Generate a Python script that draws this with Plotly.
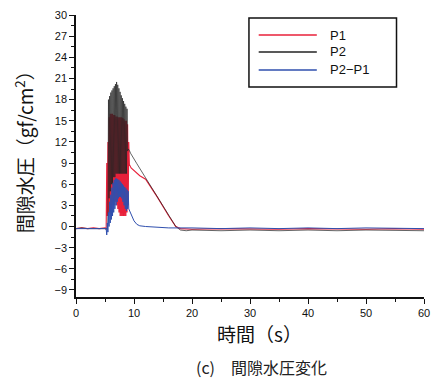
import plotly.graph_objects as go

# Time axis (s) and pore water pressure (gf/cm^2) for each gauge
t_pre = [0, 1, 2, 3, 4, 5, 5.1]
t_shake = [5.2, 5.3, 5.4, 5.5, 5.6, 5.7, 5.8, 5.9, 6.0, 6.1, 6.2, 6.3,
           6.4, 6.5, 6.6, 6.7, 6.8, 6.9, 7.0, 7.1, 7.2, 7.3, 7.4, 7.5,
           7.6, 7.7, 7.8, 7.9, 8.0, 8.1, 8.2, 8.3, 8.4, 8.5, 8.6, 8.7,
           8.8, 8.9, 9.0, 9.1, 9.2]

p1_pre = [-0.3, -0.2, -0.3, -0.2, -0.3, -0.2, -0.3]
p1_shake = [-0.3, 9, 1.5, 12, 1.5, 15.5, 2, 16, 2, 16, 2.5, 16,
            3, 15.8, 3, 15.8, 3.5, 15.6, 3, 15.6, 2.5, 15.5, 2, 15.5,
            1.5, 15.5, 1.5, 15.5, 1.5, 15.4, 1.5, 15.2, 1.5, 15, 1.5, 15,
            2, 14.5, 3, 12, 8.8]
t_p1_post = [9.5, 10, 11, 12, 14, 16, 17.2, 18, 20, 25, 30, 35, 40, 45, 50, 55, 60]
p1_post = [8.3, 7.9, 7.2, 6.7, 4.2, 1.5, 0.0, -0.3, -0.4, -0.3, -0.4, -0.4,
           -0.3, -0.4, -0.4, -0.3, -0.4]

p2_pre = [-0.3, -0.2, -0.3, -0.3, -0.2, -0.3, -0.4]
p2_shake = [-0.3, -0.3, -0.4, 0.5, 18, 4, 18.5, 5, 19, 6, 19.3, 6,
            19.6, 7, 19.9, 7, 20.2, 7.5, 20.5, 7.5, 20.1, 7.5, 19.6, 7.5,
            19.1, 7.5, 18.6, 7.5, 18.2, 7.5, 17.8, 7.5, 17.4, 7.5, 17, 7.5,
            16.7, 10.7, 11, 10.9, 10.8]
t_p2_post = [9.4, 9.8, 10.5, 12, 14, 16, 17.2, 18, 19, 20, 25, 30, 35, 40, 45, 50, 55, 60]
p2_post = [10.4, 9.9, 8.9, 6.9, 4.3, 1.6, 0.0, -0.5, -0.6, -0.5, -0.6, -0.5,
           -0.6, -0.5, -0.6, -0.5, -0.6, -0.6]

d_pre = [-0.3, -0.3, -0.2, -0.3, -0.3, -0.2, -0.3]
d_shake = [-0.3, -1.2, 0.5, -0.8, 2, 0, 3.5, 0.5, 4.5, 1, 5.5, 1.5,
           6.2, 2, 6.6, 2.5, 6.8, 3, 6.8, 3.5, 6.7, 4, 6.6, 4.2,
           6.4, 4.2, 6.2, 4, 6, 3.5, 5.8, 3, 5.6, 2.5, 5.4, 2.2,
           5.2, 2.5, 5, 2.5, 2.3]
t_d_post = [9.4, 9.7, 10, 10.5, 11, 12, 14, 16, 20, 25, 30, 35, 40, 45, 50, 55, 60]
d_post = [1.8, 1.3, 0.8, 0.3, 0.1, 0.0, -0.1, -0.2, -0.2, -0.3, -0.2, -0.3,
          -0.2, -0.3, -0.2, -0.3, -0.3]

x_ticks = [0, 10, 20, 30, 40, 50, 60]
y_ticks = [-9, -6, -3, 0, 3, 6, 9, 12, 15, 18, 21, 24, 27, 30]

# name, x, y, colour, width
series = [
    ("P1", t_pre + t_shake + t_p1_post, p1_pre + p1_shake + p1_post, "#e8203a", 1.1),
    ("P2", t_pre + t_shake + t_p2_post, p2_pre + p2_shake + p2_post, "#222222", 0.7),
    ("P2\u2212P1", t_pre + t_shake + t_d_post, d_pre + d_shake + d_post, "#2f4fae", 1.0),
]

fig = go.Figure()
for name, xs, ys, col, w in series:
    fig.add_trace(go.Scatter(x=xs, y=ys, mode="lines", name=name,
                             line=dict(color=col, width=w), showlegend=False))

tick_font = dict(family="Liberation Sans, Arial, sans-serif", size=11, color="#111")
cjk = "Noto Sans CJK JP, sans-serif"

fig.update_layout(
    width=438, height=383,
    margin=dict(l=76, r=8, t=15, b=86),
    paper_bgcolor="white", plot_bgcolor="white",
    xaxis=dict(range=[0, 60], tickvals=x_ticks, ticks="outside", ticklen=5,
               tickwidth=1.2, tickcolor="#111", showline=True, linecolor="#111",
               linewidth=1.5, showgrid=False, zeroline=False, tickfont=tick_font,
               minor=dict(dtick=5, ticks="outside", ticklen=3, tickcolor="#111")),
    yaxis=dict(range=[-10, 30], tickvals=y_ticks, ticks="outside", ticklen=5,
               tickwidth=1.2, tickcolor="#111", showline=True, linecolor="#111",
               linewidth=1.5, showgrid=False, zeroline=False, tickfont=tick_font,
               minor=dict(tick0=-10.5, dtick=1.5, ticks="outside", ticklen=3,
                          tickcolor="#111")),
)

# Axis titles and caption
fig.add_annotation(xref="paper", yref="paper", x=-0.150, y=0.530,
                   xanchor="center", yanchor="middle",
                   text="間隙水圧（gf/cm<sup>2</sup>）", textangle=-90,
                   showarrow=False, font=dict(family=cjk, size=19, color="#111"))
fig.add_annotation(xref="paper", yref="paper", x=0.528, y=-0.131,
                   xanchor="center", yanchor="middle",
                   text="時間（s）", showarrow=False,
                   font=dict(family=cjk, size=19, color="#111"))
fig.add_annotation(xref="paper", yref="paper", x=0.534, y=-0.248,
                   xanchor="center", yanchor="middle",
                   text="(c)\u3000間隙水圧変化", showarrow=False,
                   font=dict(family=cjk, size=16, color="#222"))

# Legend box drawn in paper coordinates
fig.add_shape(type="rect", xref="paper", yref="paper", x0=0.497, x1=0.921,
              y0=0.745, y1=0.989, line=dict(color="#111", width=1.5),
              fillcolor="white", layer="above")
rows = [0.929, 0.869, 0.805]
for (name, _, _, col, _), yy in zip(series, rows):
    fig.add_shape(type="line", xref="paper", yref="paper", x0=0.525, x1=0.692,
                  y0=yy, y1=yy, line=dict(color=col, width=1.5), layer="above")
    fig.add_annotation(xref="paper", yref="paper", x=0.723, y=yy,
                       xanchor="left", yanchor="middle",
                       text=name, showarrow=False,
                       font=dict(family="Liberation Sans, Arial, sans-serif",
                                 size=13, color="#111"))

fig.write_html("out.html")
